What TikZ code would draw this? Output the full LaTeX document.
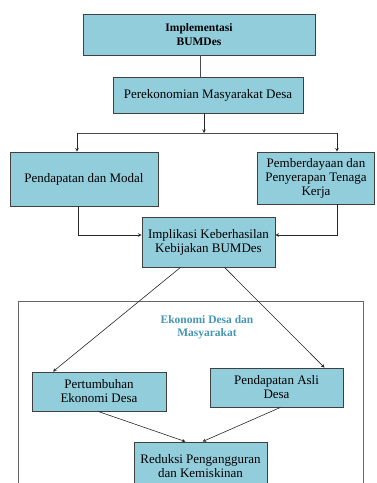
\documentclass[tikz,border=0pt]{standalone}
\usepackage{fontspec}
\setmainfont{Liberation Serif}
\usepackage{tikz}
\usepackage{xcolor}
\definecolor{boxfill}{RGB}{146,205,220}
\definecolor{boxline}{RGB}{64,64,64}
\definecolor{judulteal}{RGB}{70,150,180}
\tikzset{
	kotak/.style={draw=boxline,fill=boxfill,line width=0.8pt,align=center,inner sep=2pt,font=\fontsize{13}{14}\selectfont},
	panah/.style={-stealth,draw=black!85,line width=0.6pt},
	garis/.style={draw=black!70,line width=0.6pt}
}

\begin{document}
\begin{tikzpicture}[x=1pt,y=-1pt]
			\useasboundingbox (0,0) rectangle (376,483);
			\clip (0,0) rectangle (376,483);
			\draw[draw=black!60,line width=0.7pt] (18,520) -- (18,301) -- (363,301) -- (363,520);
			\node[kotak,minimum width=232pt,minimum height=41pt,font=\bfseries\fontsize{11.5}{14}\selectfont] (impl) at (199,34.5) {Implementasi\\BUMDes};
			\node[kotak,minimum width=190pt,minimum height=36pt] (perek) at (208,95) {Perekonomian Masyarakat Desa};
			\node[kotak,minimum width=148pt,minimum height=54pt] (pendmod) at (84,179) {Pendapatan dan Modal};
			\node[kotak,minimum width=117pt,minimum height=52pt] (berdaya) at (316,178) {Pemberdayaan dan\\Penyerapan Tenaga\\Kerja};
			\node[kotak,minimum width=133pt,minimum height=50pt] (impli) at (208.5,242) {Implikasi Keberhasilan\\Kebijakan BUMDes};
			\node[font=\bfseries\fontsize{11.5}{13}\selectfont,text=judulteal,align=center] (judul) at (207,327) {Ekonomi Desa dan\\Masyarakat};
			\node[kotak,minimum width=134pt,minimum height=39pt] (tumbuh) at (99,391.5) {Pertumbuhan\\Ekonomi Desa};
			\node[kotak,minimum width=133pt,minimum height=39pt] (pad) at (276.5,387.5) {Pendapatan Asli\\Desa};
			\node[kotak,minimum width=133pt,minimum height=48pt] (reduksi) at (200.5,466) {Reduksi Pengangguran\\dan Kemiskinan};
			\coordinate (cabangL) at (77,133);
			\coordinate (cabangR) at (337,133);
			\draw[garis] ([xshift=1pt]impl.south) -- ([xshift=1pt]impl.south |- perek.north);
			\draw[panah] ([xshift=-4pt]perek.south) -- ([xshift=-4pt]perek.south |- cabangL);
			\draw[garis] (cabangL) -- (cabangR);
			\draw[panah] (cabangL) -- (cabangL |- pendmod.north);
			\draw[panah] (cabangR) -- (cabangR |- berdaya.north);
			\draw[panah] ([xshift=-6pt]pendmod.south) |- ([yshift=7pt]impli.west);
			\draw[panah] ([xshift=21pt]berdaya.south) |- ([yshift=7pt]impli.east);
			\draw[panah] ([xshift=-28pt]impli.south) -- ([xshift=-46pt]tumbuh.north);
			\draw[panah] ([xshift=16pt]impli.south) -- ([xshift=48pt]pad.north);
			\draw[panah] ([xshift=-1pt]tumbuh.south) -- ([xshift=-15pt]reduksi.north);
			\draw[panah] ([xshift=4pt]pad.south) -- ([xshift=2pt]reduksi.north);
		\end{tikzpicture}
\end{document}
